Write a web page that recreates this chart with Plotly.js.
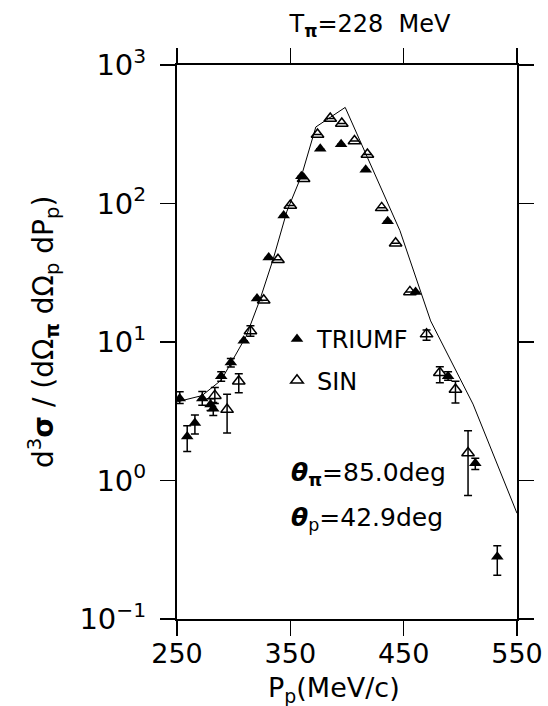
<!DOCTYPE html>
<html>
<head>
<meta charset="utf-8">
<script src="https://cdn.plot.ly/plotly-3.0.1.min.js"></script>
<style>html,body{margin:0;padding:0;background:#fff;}#chart{width:548px;height:706px;}</style>
</head>
<body>
<div id="chart"></div>
<script>
// TRIUMF (filled triangles)
const pTriumf  = [252.4, 259.0, 265.8, 272.3, 279.6, 282.0, 289.0, 297.5, 308.9, 320.6, 330.9, 344.1, 359.7, 376.4, 394.8, 416.5, 435.9, 460.5, 489.2, 513.2, 532.6];
const yTriumf  = [3.91, 2.08, 2.60, 3.91, 3.54, 3.30, 5.67, 7.10, 10.2, 20.6, 40.8, 81.8, 157, 249, 268, 175, 74.4, 23.0, 5.67, 1.33, 0.281];
const hiTriumf = [4.37, 2.49, 2.97, 4.40, 3.90, 3.65, 6.10, 7.60, null, null, null, null, null, null, null, null, null, null, 6.10, 1.45, 0.338];
const loTriumf = [3.60, 1.62, 2.17, 3.50, 3.20, 2.95, 5.20, 6.60, null, null, null, null, null, null, null, null, null, null, 5.30, 1.20, 0.207];
// SIN (open triangles)
const pSin  = [283.4, 294.2, 304.5, 314.8, 326.5, 339.1, 350.0, 361.7, 374.0, 385.2, 395.4, 406.6, 418.0, 430.6, 442.9, 455.5, 470.2, 481.9, 495.7, 506.8];
const ySin  = [4.10, 3.25, 5.20, 12.0, 20.0, 39.3, 96.7, 151, 315, 411, 378, 283, 226, 93, 51.6, 23.0, 11.4, 6.0, 4.54, 1.58];
const hiSin = [4.70, 4.20, 5.90, 13.1, null, null, null, null, null, null, null, null, null, null, null, null, 12.2, 6.62, 5.21, 2.29];
const loSin = [3.60, 2.20, 4.30, 11.0, null, null, null, null, null, null, null, null, null, null, null, null, 10.3, 5.07, 3.63, 0.778];
// theory curve (vertices)
const pTheory = [250, 272, 289, 298, 311, 323, 335, 347, 360, 372.5, 398.4, 446.7, 473.8, 511.2, 550];
const yTheory = [3.7, 4.1, 5.3, 7.1, 11, 20, 40, 88, 160, 357, 494, 63.7, 14.2, 3.56, 0.58];
// axis ticks
const xTicks = [250, 350, 450, 550];
const yTickVals = [0.1, 1, 10, 100, 1000];
const yTickText = ['10<sup>\u22121</sup>', '10<sup>0</sup>', '10<sup>1</sup>', '10<sup>2</sup>', '10<sup>3</sup>'];

function errs(y, hi, lo) {
  return {
    plus: y.map((v, i) => hi[i] == null ? null : hi[i] - v),
    minus: y.map((v, i) => lo[i] == null ? null : v - lo[i])
  };
}
const eT = errs(yTriumf, hiTriumf, loTriumf);
const eS = errs(ySin, hiSin, loSin);

const FONT = 'DejaVu Sans, Liberation Sans, sans-serif';
const L = 177, R = 31, T = 65, B = 87, W = 548, H = 706;
const pw = W - L - R, ph = H - T - B;
function px2x(px) { return (px - L) / pw; }
function py2y(py) { return (H - B - py) / ph; }

const traces = [
  {x: pTheory, y: yTheory, mode: 'lines', line: {color: '#000', width: 1}, showlegend: false, hoverinfo: 'skip'},
  {x: pTriumf, y: yTriumf, mode: 'markers', name: 'TRIUMF', legendgroup: 'a',
   marker: {symbol: 'triangle-up', size: 11, color: '#000'},
   error_y: {type: 'data', symmetric: false, array: eT.plus, arrayminus: eT.minus, color: '#000', thickness: 1.5, width: 4}},
  {x: pSin, y: ySin, mode: 'markers', name: 'SIN', legendgroup: 'b',
   marker: {symbol: 'triangle-up-open', size: 11, color: '#000', line: {width: 1.5, color: '#000'}},
   error_y: {type: 'data', symmetric: false, array: eS.plus, arrayminus: eS.minus, color: '#000', thickness: 1.5, width: 4}}
];

const layout = {
  width: W, height: H,
  margin: {l: L, r: R, t: T, b: B, pad: 0},
  paper_bgcolor: '#fff', plot_bgcolor: '#fff',
  font: {family: FONT, color: '#000', size: 24},
  showlegend: true,
  legend: {x: px2x(277), y: py2y(317), xanchor: 'left', yanchor: 'top', bgcolor: 'rgba(0,0,0,0)',
           font: {family: FONT, size: 24, color: '#000'}, tracegroupgap: 7, traceorder: 'grouped'},
  title: {text: 'T<sub><b>\u03c0</b></sub>=228&nbsp;&nbsp;MeV', font: {family: FONT, size: 24, color: '#000'},
          xref: 'paper', x: px2x(370), xanchor: 'center', yref: 'container', y: 1 - 24 / H, yanchor: 'middle'},
  xaxis: {range: [250, 550], tickvals: xTicks, ticktext: xTicks.map(String), ticks: 'outside', ticklen: 15, tickwidth: 1.5,
          tickcolor: '#000', showline: true, linecolor: '#000', linewidth: 2, mirror: 'ticks', showgrid: false, zeroline: false,
          tickfont: {family: FONT, size: 27, color: '#000'}, ticklabelstandoff: -5},
  yaxis: {type: 'log', range: [-1, 3], tickvals: yTickVals, ticktext: yTickText, ticks: 'outside', ticklen: 15, tickwidth: 1.5,
          tickcolor: '#000', showline: true, linecolor: '#000', linewidth: 2, mirror: 'ticks', showgrid: false, zeroline: false,
          tickfont: {family: FONT, size: 29, color: '#000'}, ticklabelstandoff: 8},
  annotations: [
    {xref: 'paper', yref: 'paper', x: px2x(334), y: py2y(689), xanchor: 'center', yanchor: 'middle', showarrow: false,
     text: 'P<sub>p</sub>(MeV/c)', font: {family: FONT, size: 27, color: '#000'}},
    {xref: 'paper', yref: 'paper', x: px2x(43), y: py2y(332), xanchor: 'center', yanchor: 'middle', showarrow: false, textangle: -90,
     text: 'd<sup>3</sup><b>\u03c3</b> / (d\u03a9<sub><b>\u03c0</b></sub> d\u03a9<sub>p</sub> dP<sub>p</sub>)', font: {family: FONT, size: 28, color: '#000'}},
    {xref: 'paper', yref: 'paper', x: px2x(289), y: py2y(474), xanchor: 'left', yanchor: 'middle', showarrow: false,
     text: '<b><i>\u03b8</i></b><sub><b>\u03c0</b></sub>=85.0deg', font: {family: FONT, size: 25, color: '#000'}},
    {xref: 'paper', yref: 'paper', x: px2x(289), y: py2y(519), xanchor: 'left', yanchor: 'middle', showarrow: false,
     text: '<b><i>\u03b8</i></b><sub>p</sub>=42.9deg', font: {family: FONT, size: 25, color: '#000'}}
  ]
};

Plotly.newPlot('chart', traces, layout, {staticPlot: true, displayModeBar: false});
</script>
</body>
</html>
